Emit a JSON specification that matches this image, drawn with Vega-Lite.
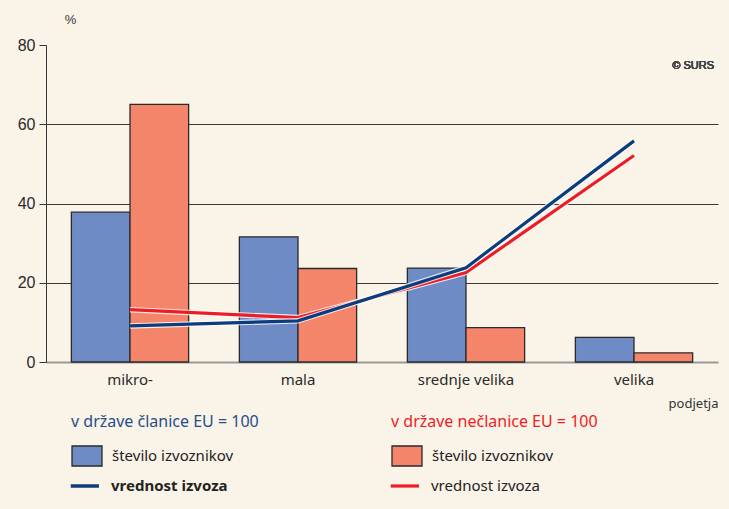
{
  "$schema": "https://vega.github.io/schema/vega-lite/v6.json",
  "width": 672,
  "height": 317,
  "autosize": {"type": "none"},
  "padding": {"left": 46, "top": 45, "right": 11, "bottom": 147},
  "background": "#FAF3E7",
  "config": {
    "view": {"stroke": null},
    "font": "Noto Sans",
    "legend": {
      "padding": 0,
      "titleFont": "Noto Sans",
      "titleFontSize": 16,
      "titleFontWeight": "normal",
      "titleLimit": 400,
      "titlePadding": 10,
      "labelFont": "Noto Sans",
      "labelFontSize": 15,
      "labelColor": "#222222",
      "labelOffset": 9,
      "labelLimit": 300,
      "symbolSize": 900,
      "symbolOpacity": 1
    }
  },
  "data": {
    "values": [
      {"podjetje": "mikro-", "skupina": "EU", "stevilo": 37.8, "vrednost": 9.1},
      {"podjetje": "mala", "skupina": "EU", "stevilo": 31.6, "vrednost": 10.4},
      {"podjetje": "srednje velika", "skupina": "EU", "stevilo": 23.7, "vrednost": 23.8},
      {"podjetje": "velika", "skupina": "EU", "stevilo": 6.2, "vrednost": 55.8},
      {"podjetje": "mikro-", "skupina": "nonEU", "stevilo": 65.0, "vrednost": 13.2},
      {"podjetje": "mala", "skupina": "nonEU", "stevilo": 23.6, "vrednost": 11.2},
      {"podjetje": "srednje velika", "skupina": "nonEU", "stevilo": 8.7, "vrednost": 22.6},
      {"podjetje": "velika", "skupina": "nonEU", "stevilo": 2.3, "vrednost": 52.1}
    ]
  },
  "encoding": {
    "x": {
      "field": "podjetje",
      "type": "nominal",
      "sort": ["mikro-", "mala", "srednje velika", "velika"],
      "scale": {"paddingInner": 0.302, "paddingOuter": 0.151},
      "axis": {
        "title": "podjetja",
        "titleX": 672,
        "titleY": 45,
        "titleAlign": "right",
        "titleBaseline": "alphabetic",
        "titleFont": "Noto Sans",
        "titleFontSize": 13,
        "titleFontWeight": "normal",
        "titleColor": "#333333",
        "labelFont": "Noto Sans",
        "labelFontSize": 15,
        "labelColor": "#2a2a2a",
        "labelAngle": 0,
        "labelPadding": 10,
        "ticks": false,
        "domain": false
      }
    }
  },
  "layer": [
    {
      "transform": [{"filter": "datum.skupina === 'EU'"}],
      "mark": {"type": "bar", "stroke": "#2a2a2a", "strokeWidth": 1.3},
      "encoding": {
        "xOffset": {"field": "skupina", "type": "nominal", "scale": {"domain": ["EU", "nonEU"], "paddingInner": 0}},
        "y": {
          "field": "stevilo",
          "type": "quantitative",
          "title": "%",
          "scale": {"domain": [0, 80], "nice": false},
          "axis": {
            "titleAngle": 0,
            "titleX": 24,
            "titleY": -22,
            "titleAlign": "center",
            "titleBaseline": "alphabetic",
            "titleFont": "Liberation Sans",
            "titleFontSize": 13,
            "titleFontWeight": "normal",
            "titleColor": "#333333",
            "values": [0, 20, 40, 60, 80],
            "labelFont": "Liberation Sans",
            "labelFontSize": 16,
            "labelColor": "#2a2a2a",
            "labelPadding": 4,
            "tickSize": 7,
            "tickColor": "#333333",
            "domainColor": "#333333",
            "grid": true,
            "gridColor": {"condition": {"test": "datum.value === 0", "value": "#9a9a9a"}, "value": "#3a3a3a"},
            "gridWidth": {"condition": {"test": "datum.value === 0", "value": 2}, "value": 1},
            "gridOpacity": {"condition": {"test": "datum.value === 80", "value": 0}, "value": 1}
          }
        },
        "fill": {
          "datum": "EU_n",
          "type": "nominal",
          "scale": {"range": ["#6E8BC6"]},
          "legend": {
            "orient": "none",
            "legendX": 25,
            "legendY": 369,
            "title": "v države članice EU = 100",
            "titleColor": "#1F4F8C",
            "symbolType": "M-1,-0.667L1,-0.667L1,0.667L-1,0.667Z",
            "symbolStrokeColor": "#2a2a2a",
            "symbolStrokeWidth": 1.3,
            "labelExpr": "'število izvoznikov'"
          }
        }
      }
    },
    {
      "transform": [{"filter": "datum.skupina === 'nonEU'"}],
      "mark": {"type": "bar", "fill": "#F4856A", "strokeWidth": 1.3},
      "encoding": {
        "xOffset": {"field": "skupina", "type": "nominal"},
        "y": {"field": "stevilo", "type": "quantitative", "title": "%"},
        "stroke": {
          "datum": "N_n",
          "type": "nominal",
          "scale": {"range": ["#2a2a2a"]},
          "legend": {
            "orient": "none",
            "legendX": 345,
            "legendY": 369,
            "title": "v države nečlanice EU = 100",
            "titleColor": "#EE1C25",
            "symbolType": "M-1,-0.667L1,-0.667L1,0.667L-1,0.667Z",
            "symbolFillColor": "#F4856A",
            "symbolStrokeWidth": 1.3,
            "labelExpr": "'število izvoznikov'"
          }
        }
      }
    },
    {
      "transform": [{"filter": "datum.skupina === 'nonEU'"}],
      "mark": {"type": "line", "stroke": "#FFFFFF", "strokeWidth": 5.5, "opacity": 0.8},
      "encoding": {
        "y": {"field": "vrednost", "type": "quantitative", "title": "%"}
      }
    },
    {
      "transform": [{"filter": "datum.skupina === 'nonEU'"}],
      "mark": {"type": "line", "stroke": "#EE1C25"},
      "encoding": {
        "y": {"field": "vrednost", "type": "quantitative", "title": "%"},
        "strokeWidth": {
          "datum": "N_v",
          "type": "nominal",
          "scale": {"range": [3.2, 3.2]},
          "legend": {
            "orient": "none",
            "legendX": 342,
            "legendY": 424,
            "title": null,
            "symbolType": "M-0.95,0L0.93,0",
            "symbolFillColor": "transparent",
            "symbolStrokeColor": "#EE1C25",
            "labelExpr": "'vrednost izvoza'"
          }
        }
      }
    },
    {
      "transform": [{"filter": "datum.skupina === 'EU'"}],
      "mark": {"type": "line", "stroke": "#FFFFFF", "strokeWidth": 5.5, "opacity": 0.8},
      "encoding": {
        "y": {"field": "vrednost", "type": "quantitative", "title": "%"}
      }
    },
    {
      "transform": [{"filter": "datum.skupina === 'EU'"}],
      "mark": {"type": "line", "stroke": "#0B3C7D", "strokeWidth": 3.2},
      "encoding": {
        "y": {"field": "vrednost", "type": "quantitative", "title": "%"},
        "opacity": {
          "datum": "EU_v",
          "type": "nominal",
          "scale": {"range": [1, 1]},
          "legend": {
            "orient": "none",
            "legendX": 22,
            "legendY": 424,
            "title": null,
            "symbolType": "M-0.95,0L0.93,0",
            "symbolFillColor": "transparent",
            "symbolStrokeColor": "#0B3C7D",
            "symbolStrokeWidth": 3.5,
            "labelFontWeight": "bold",
            "labelExpr": "'vrednost izvoza'"
          }
        }
      }
    },
    {
      "mark": {"type": "text", "text": "© SURS", "font": "Liberation Sans", "fontSize": 11, "fontWeight": "normal", "color": "#444444", "align": "right", "baseline": "middle", "dx": 80},
      "encoding": {
        "x": {"datum": "velika", "type": "nominal"},
        "y": {"datum": 74.7, "type": "quantitative", "title": "%"}
      }
    }
  ]
}
